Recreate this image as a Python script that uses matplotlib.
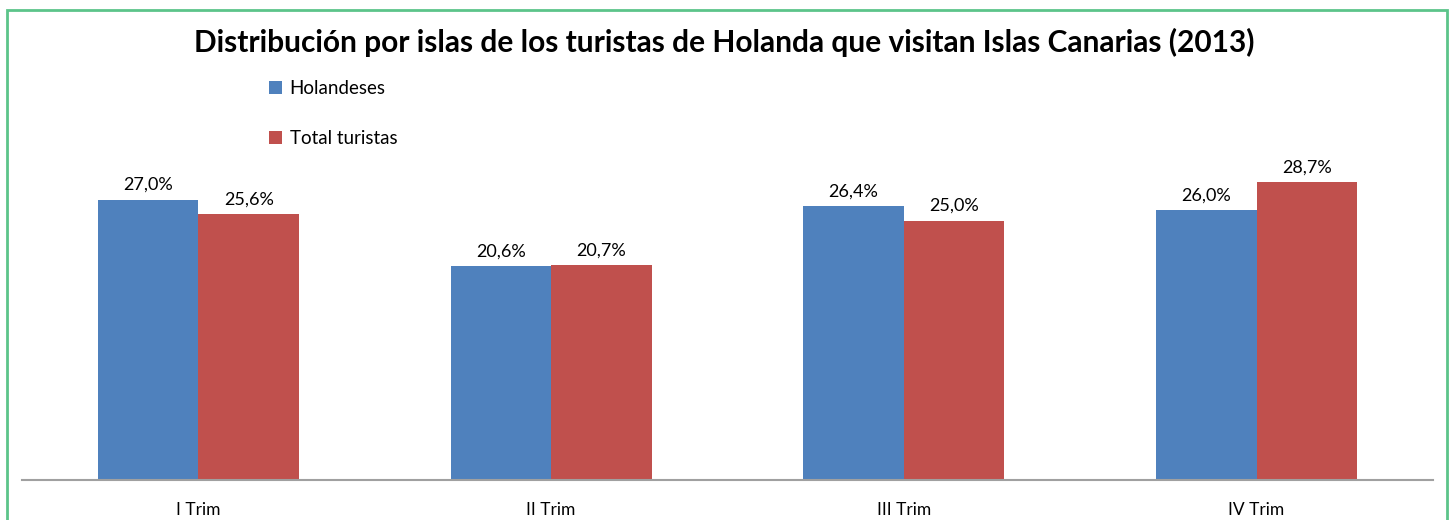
import numpy as np
import matplotlib.pyplot as plt
from matplotlib.patches import Rectangle

# Data
trimestres = ['I Trim', 'II Trim', 'III Trim', 'IV Trim']
holandeses = [27.0, 20.6, 26.4, 26.0]
total_turistas = [25.6, 20.7, 25.0, 28.7]

blue = '#4f81bd'
red = '#c0504d'

plt.rcParams['font.family'] = ['Lato', 'DejaVu Sans']

fig = plt.figure(figsize=(14.49, 5.2), dpi=100)
ax = fig.add_axes([22 / 1449, 40 / 520, 1411 / 1449, 363 / 520])

x = np.arange(len(trimestres))
w = 0.285
b1 = ax.bar(x - w / 2, holandeses, w, color=blue, label='Holandeses')
b2 = ax.bar(x + w / 2, total_turistas, w, color=red, label='Total turistas')

for bars in (b1, b2):
    for rect in bars:
        val = rect.get_height()
        ax.annotate(f'{val:.1f}%'.replace('.', ','),
                    (rect.get_x() + rect.get_width() / 2, val),
                    xytext=(0, 5), textcoords='offset points',
                    ha='center', va='bottom', fontsize=13)

ax.set_xlim(-0.5, len(trimestres) - 0.5)
ax.set_ylim(0, 35)
ax.set_xticks(x)
ax.set_xticklabels(trimestres, fontsize=12.5)
ax.tick_params(axis='x', length=0, pad=16)
ax.set_yticks([])
for s in ['top', 'right', 'left']:
    ax.spines[s].set_visible(False)
ax.spines['bottom'].set_color('#a0a0a0')
ax.spines['bottom'].set_linewidth(1.5)

fig.text(0.5, 1 - 42 / 520, 'Distribución por islas de los turistas de Holanda que visitan Islas Canarias (2013)',
         ha='center', va='center', fontsize=21.5, fontweight='bold')

ax.legend(loc='upper left', bbox_to_anchor=(252 / 1449, 1 - 63 / 520), bbox_transform=fig.transFigure,
          frameon=False, fontsize=13.5, handlelength=0.7, handleheight=0.7,
          handletextpad=0.4, labelspacing=1.75)

# green chart border
fig.patches.append(Rectangle((7 / 1449, -0.1), 1440 / 1449, 1.1 - 10 / 520,
                             transform=fig.transFigure, fill=False,
                             edgecolor='#5cc48a', linewidth=2))

fig.savefig('out.png', dpi=100)
